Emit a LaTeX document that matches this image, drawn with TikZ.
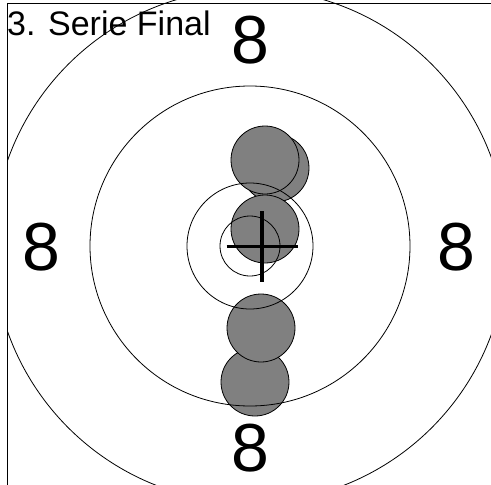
\documentclass[tikz,border=0pt]{standalone}
\usepackage{fontspec}
\setmainfont{Liberation Sans}
\usetikzlibrary{positioning,calc}
\tikzset{
	ring/.style = {draw, line width=0.8pt}, % the rings of the target
	shot/.style = {circle, draw, line width=0.8pt, fill=shotgray, inner sep=0pt, minimum size=68pt},
	ringnum/.style = {inner sep=0pt, font=\fontsize{68}{68}\selectfont},
	frame/.style = {line width=1.4pt}
}
\definecolor{shotgray}{RGB}{128,128,128}

\begin{document}
\begin{tikzpicture}[x=1pt, y=-1pt]
            \useasboundingbox (0,0) rectangle (491,485);
            \coordinate (centre) at (250,246);
            \begin{scope}
            \clip (7.5,-20) rectangle (495,490);
            % shots
            \node[shot] (s2) at (275,168) {};
            \node[shot] (s1) at (265,160) {};
            \node[shot] (s3) at (265,229) {};
            \node[shot] (s5) at (255,382) {};
            \node[shot] (s4) at (261,328) {};
            % rings
            \draw[ring] (centre) circle (257);
            \draw[ring] (centre) circle (160);
            \draw[ring] (centre) circle (63);
            \draw[ring] (centre) circle (30);
            \end{scope}
            % ring numbers
            \node[ringnum] (top8) at (250,40) {8};
            \node[ringnum] (left8) at (41,247) {8};
            \node[ringnum] (right8) at (456,247) {8};
            \node[ringnum] (bottom8) at (250,448) {8};
            \node[inner sep=0pt, anchor=base west, font=\fontsize{34}{34}\selectfont] (title) at (7,35) {3. Serie Final};
            % mean point of impact
            \coordinate (mpi) at (262,246.5);
            \draw[line width=3.5pt] ($(mpi)+(-35.5,0)$) -- ($(mpi)+(35.5,0)$);
            \draw[line width=3.5pt] ($(mpi)+(0,-35.5)$) -- ($(mpi)+(0,35.5)$);
            % frame
            \coordinate (tl) at (7.5,3.5);
            \coordinate (tr) at (491,3.5);
            \coordinate (bl) at (7.5,485);
            \draw[frame] (tr) -- (tl) -- (bl);
        \end{tikzpicture}
\end{document}
